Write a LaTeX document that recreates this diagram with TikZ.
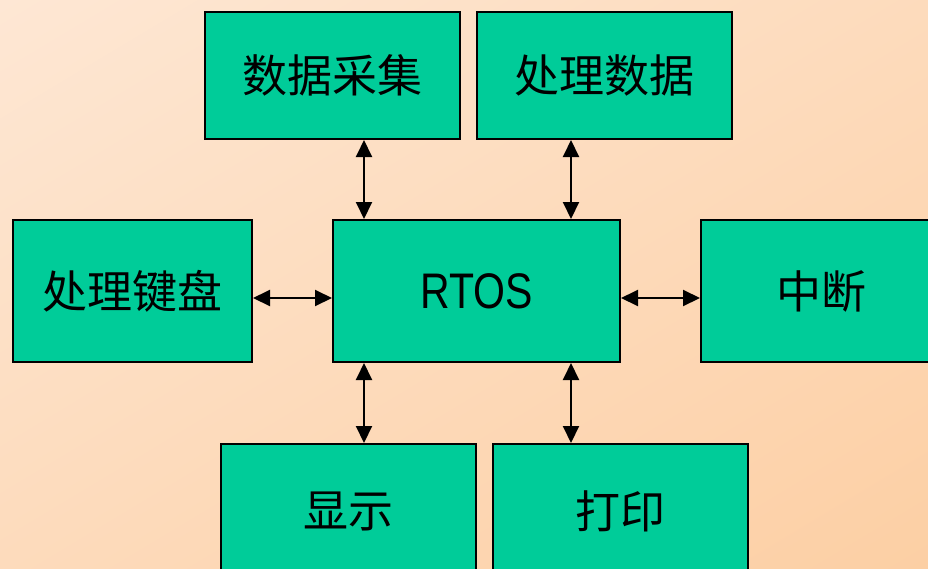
\documentclass[tikz,border=0pt]{standalone}
\usepackage{fontspec}
\setmainfont{Liberation Sans}
\newfontfamily\cjk{Noto Sans CJK SC}
\usetikzlibrary{arrows.meta}
\definecolor{bgA}{RGB}{254,238,226}
\definecolor{bgB}{RGB}{252,200,150}
\definecolor{boxfill}{RGB}{0,204,153}
\tikzset{
  blk/.style={draw=black, line width=2.2pt, fill=boxfill, inner sep=0pt, outer sep=0pt, anchor=north west, font=\cjk\fontsize{45}{50}\selectfont},
  arr/.style={line width=2pt, {Triangle[length=17pt,width=16pt]}-{Triangle[length=17pt,width=16pt]}, shorten <=1pt, shorten >=1pt}
}
\begin{document}
\begin{tikzpicture}[x=1pt,y=-1pt]
\useasboundingbox (0,0) rectangle (928,568);
\clip (0,0) rectangle (928,568);
\shade[top color=bgA, bottom color=bgB, shading angle=31] (-300,-480) rectangle (1228,1048);
\node[blk, minimum width=255pt, minimum height=127pt] (sj) at (205,12) {数据采集};
\node[blk, minimum width=255pt, minimum height=127pt] (cl) at (477,12) {处理数据};
\node[blk, minimum width=239pt, minimum height=142pt] (kb) at (13,220) {处理键盘};
\node[blk, minimum width=287pt, minimum height=142pt, font=\fontsize{50}{56}\selectfont] (rtos) at (333,220) {\scalebox{0.82}[1]{RTOS}};
\node[blk, minimum width=240pt, minimum height=142pt] (zd) at (701,220) {中断};
\node[blk, minimum width=255pt, minimum height=134pt] (xs) at (221,444) {显示};
\node[blk, minimum width=255pt, minimum height=134pt] (dy) at (493,444) {打印};
\draw[arr] ([xshift=31pt]rtos.north west) -- ([xshift=31pt]rtos.north west |- sj.south);
\draw[arr] ([xshift=-49pt]rtos.north east) -- ([xshift=-49pt]rtos.north east |- cl.south);
\draw[arr] ([xshift=31pt]rtos.south west) -- ([xshift=31pt]rtos.south west |- xs.north);
\draw[arr] ([xshift=-49pt]rtos.south east) -- ([xshift=-49pt]rtos.south east |- dy.north);
\draw[arr] ([yshift=-7pt]kb.east) -- ([yshift=-7pt]rtos.west);
\draw[arr] ([yshift=-7pt]rtos.east) -- ([yshift=-7pt]zd.west);
\end{tikzpicture}
\end{document}
